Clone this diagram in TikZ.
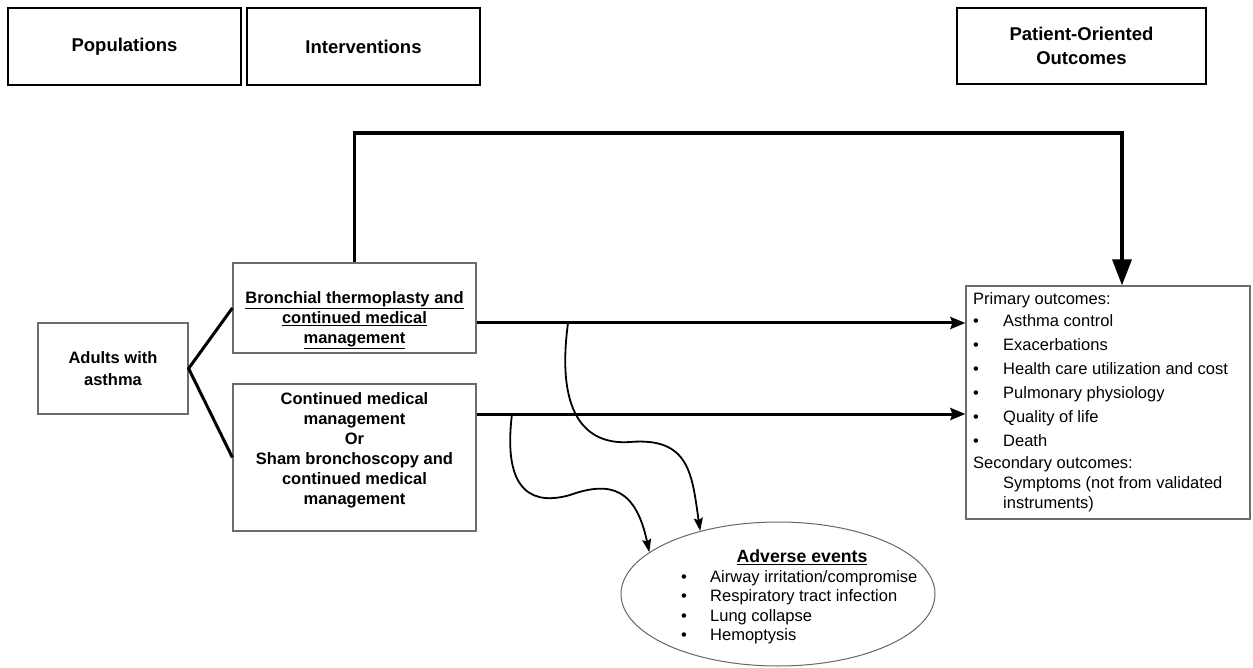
\documentclass[tikz,border=0pt]{standalone}
\usepackage{fontspec}
\setmainfont{Liberation Sans}
\usetikzlibrary{arrows.meta,shapes.geometric}
\begin{document}
\begin{tikzpicture}[x=1pt,y=-1pt,
 hdr/.style={draw=black,line width=1.6pt,minimum height=77pt,inner sep=0pt,font=\bfseries\fontsize{18.5}{24}\selectfont,align=center},
 box/.style={draw=gray!85!black,line width=1.2pt,inner sep=0pt},
 bt/.style={font=\bfseries\fontsize{16.5}{20}\selectfont,align=center,inner sep=0pt},
 lt/.style={font=\fontsize{16.5}{20}\selectfont,align=left,inner sep=0pt},
 conn/.style={line width=3pt},
 harrow/.style={line width=3pt,-{Stealth[length=15pt,width=12pt,inset=2pt]}},
 curv/.style={line width=1.8pt,-{Stealth[length=13pt,width=9pt,inset=2pt]}},
 bigarrow/.style={line width=3.5pt,-{Triangle[length=26pt,width=19pt]}},
]
\useasboundingbox (0,0) rectangle (1253,668);
% header boxes
\node[hdr,minimum width=233pt] (pop) at (124.5,46.5) {\raisebox{-2pt}{Populations}};
\node[hdr,minimum width=233pt] (int) at (363.5,46.5) {\raisebox{-2pt}{Interventions}};
\node[hdr,minimum width=249pt,minimum height=76pt] (poo) at (1081.5,46) {Patient-Oriented\\Outcomes};
% main boxes
\node[box,minimum width=150pt,minimum height=91pt,font=\bfseries\fontsize{16.5}{22}\selectfont,align=center] (ad) at (113,368.5) {Adults with\\asthma};
\node[box,minimum width=243pt,minimum height=90pt] (b1) at (354.5,308) {};
\node[bt] (b1t) at (354.5,320) {\underline{Bronchial thermoplasty and}\\\underline{continued medical}\\\underline{management}};
\node[box,minimum width=243pt,minimum height=147pt] (b2) at (354.5,457.5) {};
\node[bt] (b2t) at (354.5,450) {Continued medical\\management\\Or\\Sham bronchoscopy and\\continued medical\\management};
\node[box,minimum width=284pt,minimum height=233pt] (out) at (1108,402.5) {};
\node[lt,anchor=north west] (outt) at (973,292) {Primary outcomes:\\[2pt]
\makebox[30pt][l]{\textbullet}Asthma control\\[4pt]
\makebox[30pt][l]{\textbullet}Exacerbations\\[4pt]
\makebox[30pt][l]{\textbullet}Health care utilization and cost\\[4pt]
\makebox[30pt][l]{\textbullet}Pulmonary physiology\\[4pt]
\makebox[30pt][l]{\textbullet}Quality of life\\[4pt]
\makebox[30pt][l]{\textbullet}Death\\[2pt]
Secondary outcomes:\\
\hspace*{30pt}Symptoms (not from validated\\
\hspace*{30pt}instruments)};
% adverse events ellipse
\node[ellipse,draw=gray!80!black,line width=1pt,minimum width=314pt,minimum height=144pt] (ae) at (778,594) {};
\node[font=\bfseries\fontsize{17.7}{20}\selectfont,inner sep=0pt] (aet) at (802,557) {\underline{Adverse events}};
\node[lt,anchor=north west,font=\fontsize{16.5}{19.5}\selectfont] (ael) at (681,570) {\makebox[29pt][l]{\textbullet}Airway irritation/compromise\\
\makebox[29pt][l]{\textbullet}Respiratory tract infection\\
\makebox[29pt][l]{\textbullet}Lung collapse\\
\makebox[29pt][l]{\textbullet}Hemoptysis};
% connectors
\draw[conn] (b1.west) -- (ad.east) -- (b2.west);
\coordinate (c1) at (568,323);
\coordinate (c2) at (512,414);
\coordinate (tr) at (1122,133);
\draw[bigarrow] (b1.north) |- (tr) -- (tr |- out.north);
\draw[harrow] (b1.east |- c1) -- (out.west |- c1);
\draw[harrow] (b2.east |- c2) -- (out.west |- c2);
\draw[curv] (c1) .. controls (555,420) and (590,445) .. (630,442) .. controls (690,437) and (692,475) .. (ae.141);
\draw[curv] (c2) .. controls (502,495) and (535,505) .. (570,495) .. controls (612,480) and (636,490) .. (ae.162);
\end{tikzpicture}
\end{document}
